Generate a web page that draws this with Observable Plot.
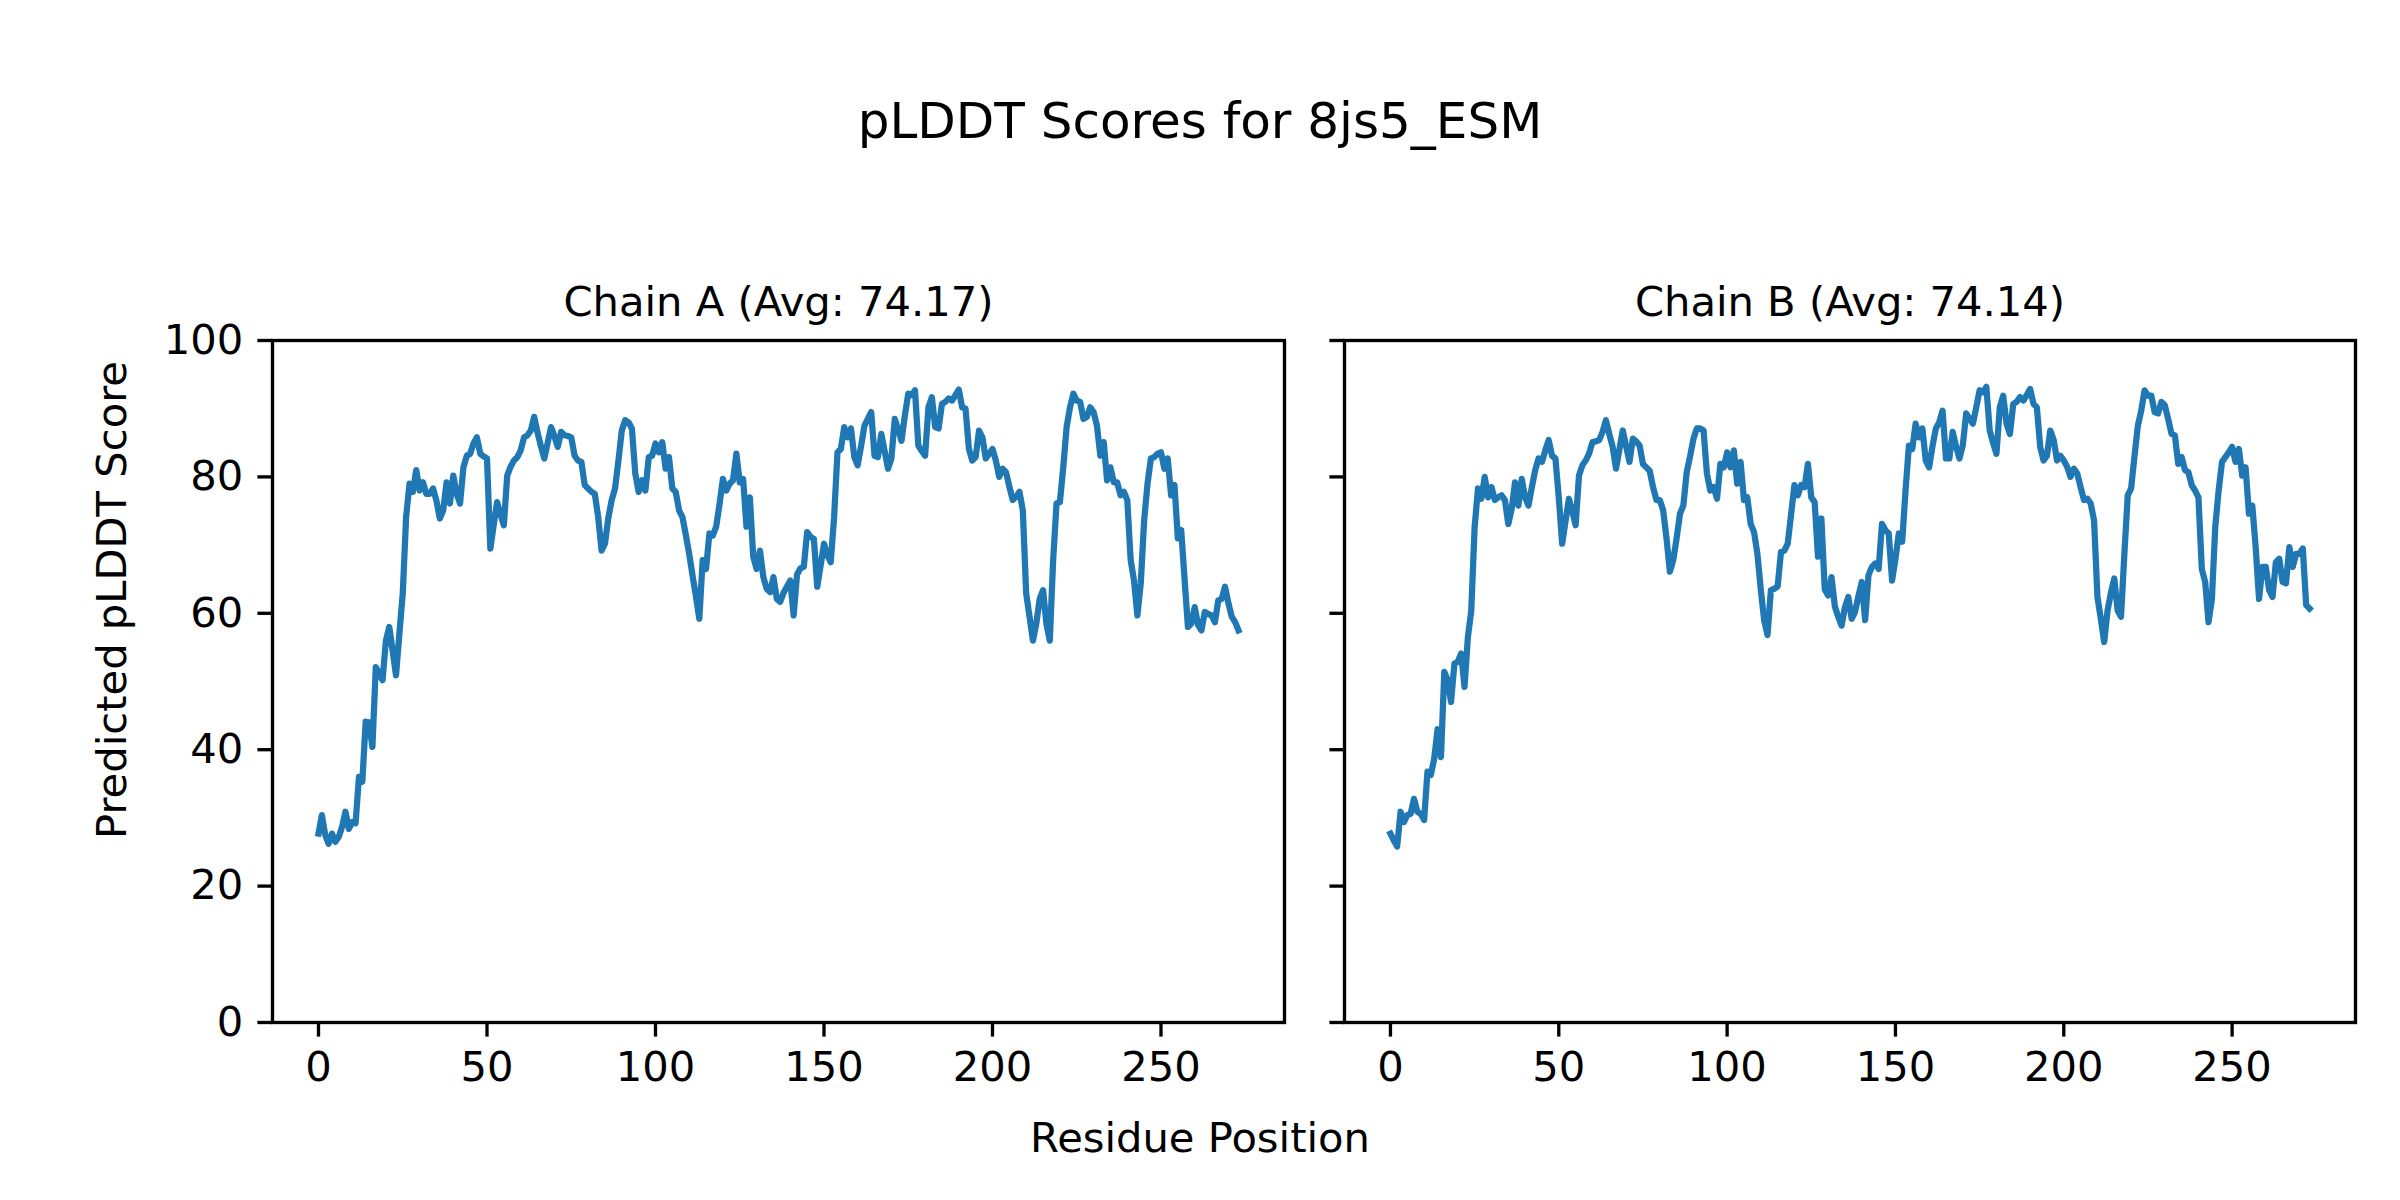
<!DOCTYPE html>
<html><head><meta charset="utf-8">
<script src="https://cdn.jsdelivr.net/npm/d3@7"></script>
<script src="https://cdn.jsdelivr.net/npm/@observablehq/plot@0.6"></script>
<style>
body{margin:0;background:#fff;}
#fig{position:relative;width:2400px;height:1200px;font-family:"DejaVu Sans",sans-serif;color:#000;background:#fff;overflow:hidden;}
.t{position:absolute;white-space:nowrap;line-height:1;}
</style></head><body><div id="fig"></div>
<script>
const figTitle = "pLDDT Scores for 8js5_ESM";
const xLabel = "Residue Position";
const yLabel = "Predicted pLDDT Score";
const chainTitles = ["Chain A (Avg: 74.17)", "Chain B (Avg: 74.14)"];
const xTicks = [0, 50, 100, 150, 200, 250];
const yTicks = [0, 20, 40, 60, 80, 100];

const chainA = [
27.7,30.4,27.5,26.2,27.7,26.5,27.2,28.7,30.9,28.4,
29.4,29.2,36.0,35.3,44.1,44.0,40.4,52.1,51.2,50.2,
56.0,58.0,54.5,50.9,57.0,62.9,74.1,79.0,77.8,81.0,
78.0,79.2,77.5,77.5,78.3,76.5,73.9,75.1,79.2,76.1,
80.2,77.5,76.1,81.4,83.1,83.4,84.9,85.8,83.4,83.0,
82.7,69.5,73.0,76.3,74.5,72.9,80.2,81.5,82.4,82.9,
83.9,85.8,86.1,86.8,88.8,86.5,84.5,82.7,85.0,87.3,
86.0,84.4,86.6,86.1,86.0,85.8,83.1,82.4,82.2,78.8,
78.3,77.8,77.5,74.1,69.2,70.2,74.0,76.6,78.3,82.4,
86.8,88.3,88.0,87.1,80.5,77.8,79.5,78.0,82.9,83.1,
84.9,83.6,85.1,81.2,82.9,78.3,77.8,75.1,74.1,71.5,
68.7,65.5,62.5,59.2,67.8,66.5,71.7,71.4,72.7,76.0,
79.7,78.0,79.0,79.5,83.4,79.2,79.7,72.7,77.0,68.3,
66.5,69.2,65.3,63.6,63.1,65.3,62.1,61.7,63.0,63.9,
64.8,59.7,65.7,66.6,66.8,71.9,71.2,70.9,63.9,67.0,
70.2,68.5,67.5,74.1,83.6,84.1,87.3,85.8,87.1,82.9,
81.7,84.5,87.5,88.5,89.5,83.1,82.9,86.3,83.8,81.2,
82.7,88.5,87.0,85.3,89.0,92.2,92.0,92.7,84.6,83.8,
83.1,90.2,91.7,87.3,87.1,90.7,91.0,91.5,91.2,92.0,
92.8,90.2,90.0,84.1,82.4,82.9,86.8,85.8,82.7,83.4,
84.1,82.4,80.0,81.2,80.7,78.6,76.6,77.1,77.8,75.1,
62.9,59.5,56.0,58.5,62.1,63.4,58.5,56.0,67.8,76.1,
76.3,81.4,87.3,90.2,92.2,91.2,91.0,88.5,88.8,90.2,
89.5,87.5,83.1,85.1,79.5,81.4,79.2,79.2,77.3,77.8,
76.6,67.8,64.8,59.7,64.4,73.6,79.0,82.7,82.9,83.4,
83.6,81.2,82.7,77.3,78.8,71.0,72.2,65.0,58.0,58.5,
60.9,58.3,57.5,60.2,59.9,59.7,58.7,61.9,62.1,63.9,
61.5,59.5,58.7,57.5
];

const chainB = [
27.7,26.7,25.8,30.9,29.4,30.4,30.6,32.8,30.9,30.6,
29.7,36.8,36.3,38.7,43.0,38.9,51.4,50.2,47.0,52.6,
52.9,54.1,49.2,56.5,60.4,72.6,78.3,76.8,80.0,77.0,
78.5,76.6,77.0,77.3,76.6,73.1,75.3,79.2,75.8,79.7,
77.0,75.8,78.5,81.0,82.7,82.2,83.9,85.4,83.1,82.7,
77.0,70.2,73.5,76.8,75.0,72.9,80.2,81.7,82.4,83.4,
85.1,85.2,85.4,86.6,88.3,86.3,84.4,81.2,84.0,86.8,
84.5,82.2,85.6,85.2,84.6,81.9,81.4,80.9,78.5,76.6,
76.6,75.1,71.0,66.1,67.8,71.0,74.6,75.8,80.7,83.0,
85.6,87.1,87.1,86.8,80.5,78.0,78.5,76.8,81.9,81.4,
83.6,81.4,83.9,79.0,82.2,76.6,77.0,73.1,71.9,68.7,
63.5,59.0,56.8,63.4,63.6,63.9,69.0,69.2,70.2,74.5,
78.8,77.3,78.8,78.5,81.9,77.0,76.3,68.3,73.9,63.5,
62.6,65.3,61.0,59.5,58.2,60.9,62.4,59.2,60.2,62.5,
64.6,59.0,65.6,66.8,67.3,66.5,73.1,72.2,71.7,64.8,
68.0,71.7,70.5,78.0,84.6,84.1,87.8,85.8,87.1,82.4,
81.4,84.5,87.1,88.0,89.7,82.7,82.7,86.6,84.5,82.7,
84.6,89.3,88.5,87.8,90.2,92.7,92.4,93.2,86.8,85.0,
83.4,90.2,91.9,87.8,86.3,90.7,91.0,91.7,91.2,92.0,
92.9,90.7,90.2,84.4,82.4,83.1,86.8,85.4,82.4,83.1,
82.4,81.5,80.0,81.2,80.5,78.5,76.6,76.8,76.1,73.6,
62.4,59.2,55.8,60.4,63.0,65.1,60.4,59.5,68.7,77.3,
78.3,83.0,87.5,89.7,92.7,91.9,91.9,89.5,89.3,91.0,
90.5,88.5,86.3,86.1,81.9,82.9,81.0,80.7,78.8,78.0,
77.0,66.5,64.6,58.7,62.1,72.7,78.0,82.2,82.9,83.6,
84.4,82.2,84.1,80.2,81.4,74.6,75.8,69.7,62.1,66.8,
66.8,63.4,62.4,67.5,68.0,64.6,64.4,69.7,66.8,68.7,
68.7,69.5,61.2,60.7
];

const FS = 41.67;       // 10pt at 300 dpi
const TICK = 14.6;      // 3.5pt
const SPINE = 3.33;     // 0.8pt
const fig = document.getElementById("fig");

function panel(values, title, showYLabels, width, marginLeft, marginRight, left) {
  const data = values.map((v, i) => ({pos: i, score: v}));
  const n = values.length - 1;
  const pad = 0.05 * n;
  const svg = Plot.plot({
    width, height: 1200,
    marginLeft, marginRight, marginTop: 340, marginBottom: 178,
    style: {fontFamily: "DejaVu Sans", fontSize: FS + "px", background: "transparent", color: "#000", overflow: "visible"},
    x: {domain: [-pad, n + pad]},
    y: {domain: [0, 100]},
    marks: [
      Plot.line(data, {x: "pos", y: "score", stroke: "#1f77b4", strokeWidth: 6.25, strokeLinejoin: "round", strokeLinecap: "square"}),
      Plot.frame({stroke: "#000", strokeWidth: SPINE}),
      Plot.axisX({ticks: xTicks, tickSize: TICK, tickPadding: TICK, strokeWidth: SPINE, label: null, fontSize: FS, tickFormat: d => String(d)}),
      Plot.axisY({ticks: yTicks, tickSize: TICK, tickPadding: TICK, strokeWidth: SPINE, label: null, fontSize: FS,
        tickFormat: showYLabels ? (d => String(d)) : (() => "")}),
      Plot.text([title], {text: d => d, frameAnchor: "top", lineAnchor: "bottom", dy: -25, fontSize: FS})
    ]
  });
  svg.style.position = "absolute";
  svg.style.left = left + "px";
  svg.style.top = "0px";
  svg.style.maxWidth = "none";
  fig.appendChild(svg);
}

panel(chainA, chainTitles[0], true, 1314, 272, 30, 0);
panel(chainB, chainTitles[1], false, 1086, 30, 45, 1314);

function label(text, size, cx, cy, rotate) {
  const d = document.createElement("div");
  d.className = "t";
  d.textContent = text;
  d.style.fontSize = size + "px";
  d.style.left = cx + "px";
  d.style.top = cy + "px";
  d.style.transform = "translate(-50%,-50%)" + (rotate ? " rotate(-90deg)" : "");
  fig.appendChild(d);
}
label(figTitle, 50, 1200, 121, false);
label(xLabel, FS, 1200, 1138, false);
label(yLabel, FS, 112, 600, true);
</script></body></html>
